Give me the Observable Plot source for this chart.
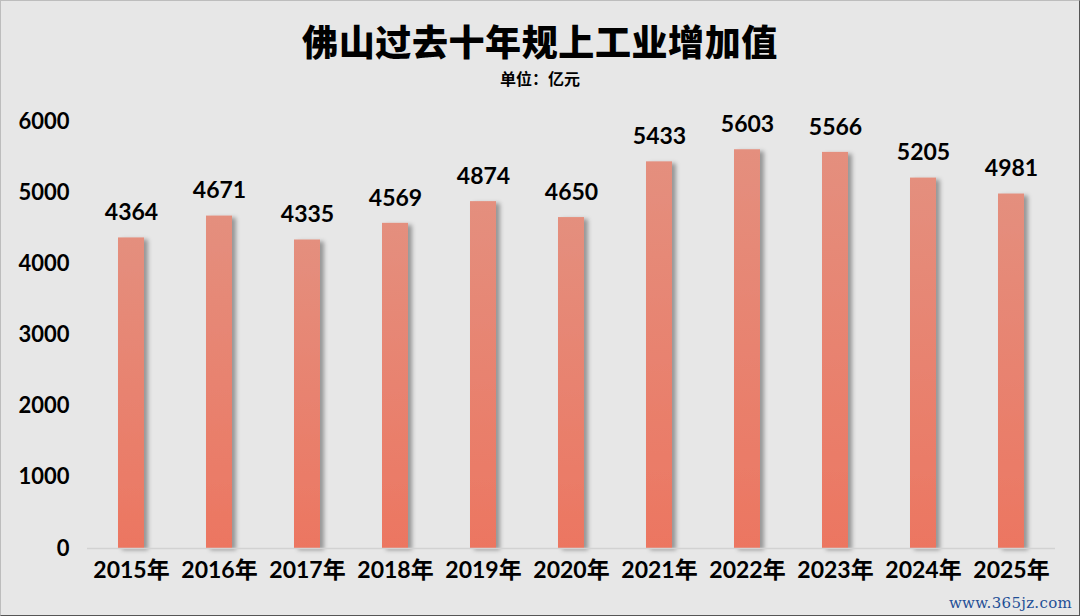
<!DOCTYPE html>
<html><head><meta charset="utf-8">
<script src="https://cdn.jsdelivr.net/npm/d3@7"></script>
<script src="https://cdn.jsdelivr.net/npm/@observablehq/plot@0.6"></script>
<style>
html,body{margin:0;padding:0;}
body{width:1080px;height:616px;background:#e7e7e7;overflow:hidden;position:relative;font-family:Lato,"Noto Sans CJK SC",sans-serif;}
#frame{position:absolute;left:0;top:0;width:1078px;height:614px;border:1px solid #bdbdbd;border-right-color:#555;border-bottom-color:#555;}
#title{position:absolute;left:0;top:14px;width:1080px;text-align:center;font-family:"Noto Sans CJK SC",sans-serif;font-weight:900;font-size:36px;line-height:52px;color:#000;letter-spacing:0.6px;}
#sub{position:absolute;left:0;top:67px;width:1080px;text-align:center;font-family:"Noto Sans CJK SC",sans-serif;font-weight:700;font-size:16px;line-height:23px;color:#000;}
#chart{position:absolute;left:0;top:95px;}
#wm{position:absolute;right:8px;bottom:4px;font-family:"DejaVu Serif",serif;font-size:15px;color:#1f4f96;letter-spacing:0.3px;}
</style></head>
<body>
<div id="frame"></div>
<div id="title">佛山过去十年规上工业增加值</div>
<div id="sub">单位：亿元</div>
<div id="chart"></div>
<div id="wm">www.365jz.com</div>
<script>
const years = ["2015年","2016年","2017年","2018年","2019年","2020年","2021年","2022年","2023年","2024年","2025年"];
const values = [4364,4671,4335,4569,4874,4650,5433,5603,5566,5205,4981];
const yTicks = [0,1000,2000,3000,4000,5000,6000];

const data = years.map((y,i)=>({year:y, value:values[i]}));

const plot = Plot.plot({
  width: 1080,
  height: 521,
  marginLeft: 87,
  marginRight: 25,
  marginTop: 26,
  marginBottom: 68,
  style: {background:"transparent", fontFamily:"Lato, 'Noto Sans CJK SC', sans-serif", color:"#000", overflow:"visible"},
  x: {domain: years, paddingInner: 0.7, paddingOuter: 0.35, align: 0.5, label: null},
  y: {domain: [0,6000], label: null},
  marks: [
    Plot.barY(data, {x:"year", y:"value", fill:"url(#barGrad)", className:"bars"}),
    Plot.ruleY([0], {stroke:"#d2d2d2", strokeWidth:1.5}),
    Plot.text(data, {x:"year", y:"value", text:d=>String(d.value), dy:-25, fontSize:23, fontWeight:"bold", fill:"#000"}),
    Plot.axisX({tickSize:0, tickPadding:13, fontSize:23, fontWeight:"bold", label:null}),
    Plot.axisY({ticks:yTicks, tickFormat:d=>String(d), tickSize:0, tickPadding:18, fontSize:22, fontWeight:"bold", label:null})
  ]
});

const svg = d3.select(plot);
const defs = svg.insert("defs", ":first-child");
const g = defs.append("linearGradient").attr("id","barGrad").attr("x1",0).attr("y1",0).attr("x2",0).attr("y2",1);
g.append("stop").attr("offset","0%").attr("stop-color","#e48f7e");
g.append("stop").attr("offset","100%").attr("stop-color","#ec7661");
const f = defs.append("filter").attr("id","shadow").attr("x","-20%").attr("y","-5%").attr("width","160%").attr("height","115%");
f.append("feDropShadow").attr("dx",4).attr("dy",2).attr("stdDeviation",2).attr("flood-color","#000").attr("flood-opacity",0.35);
svg.selectAll(".bars").attr("filter","url(#shadow)");
document.getElementById("chart").appendChild(plot);
</script>
</body></html>
